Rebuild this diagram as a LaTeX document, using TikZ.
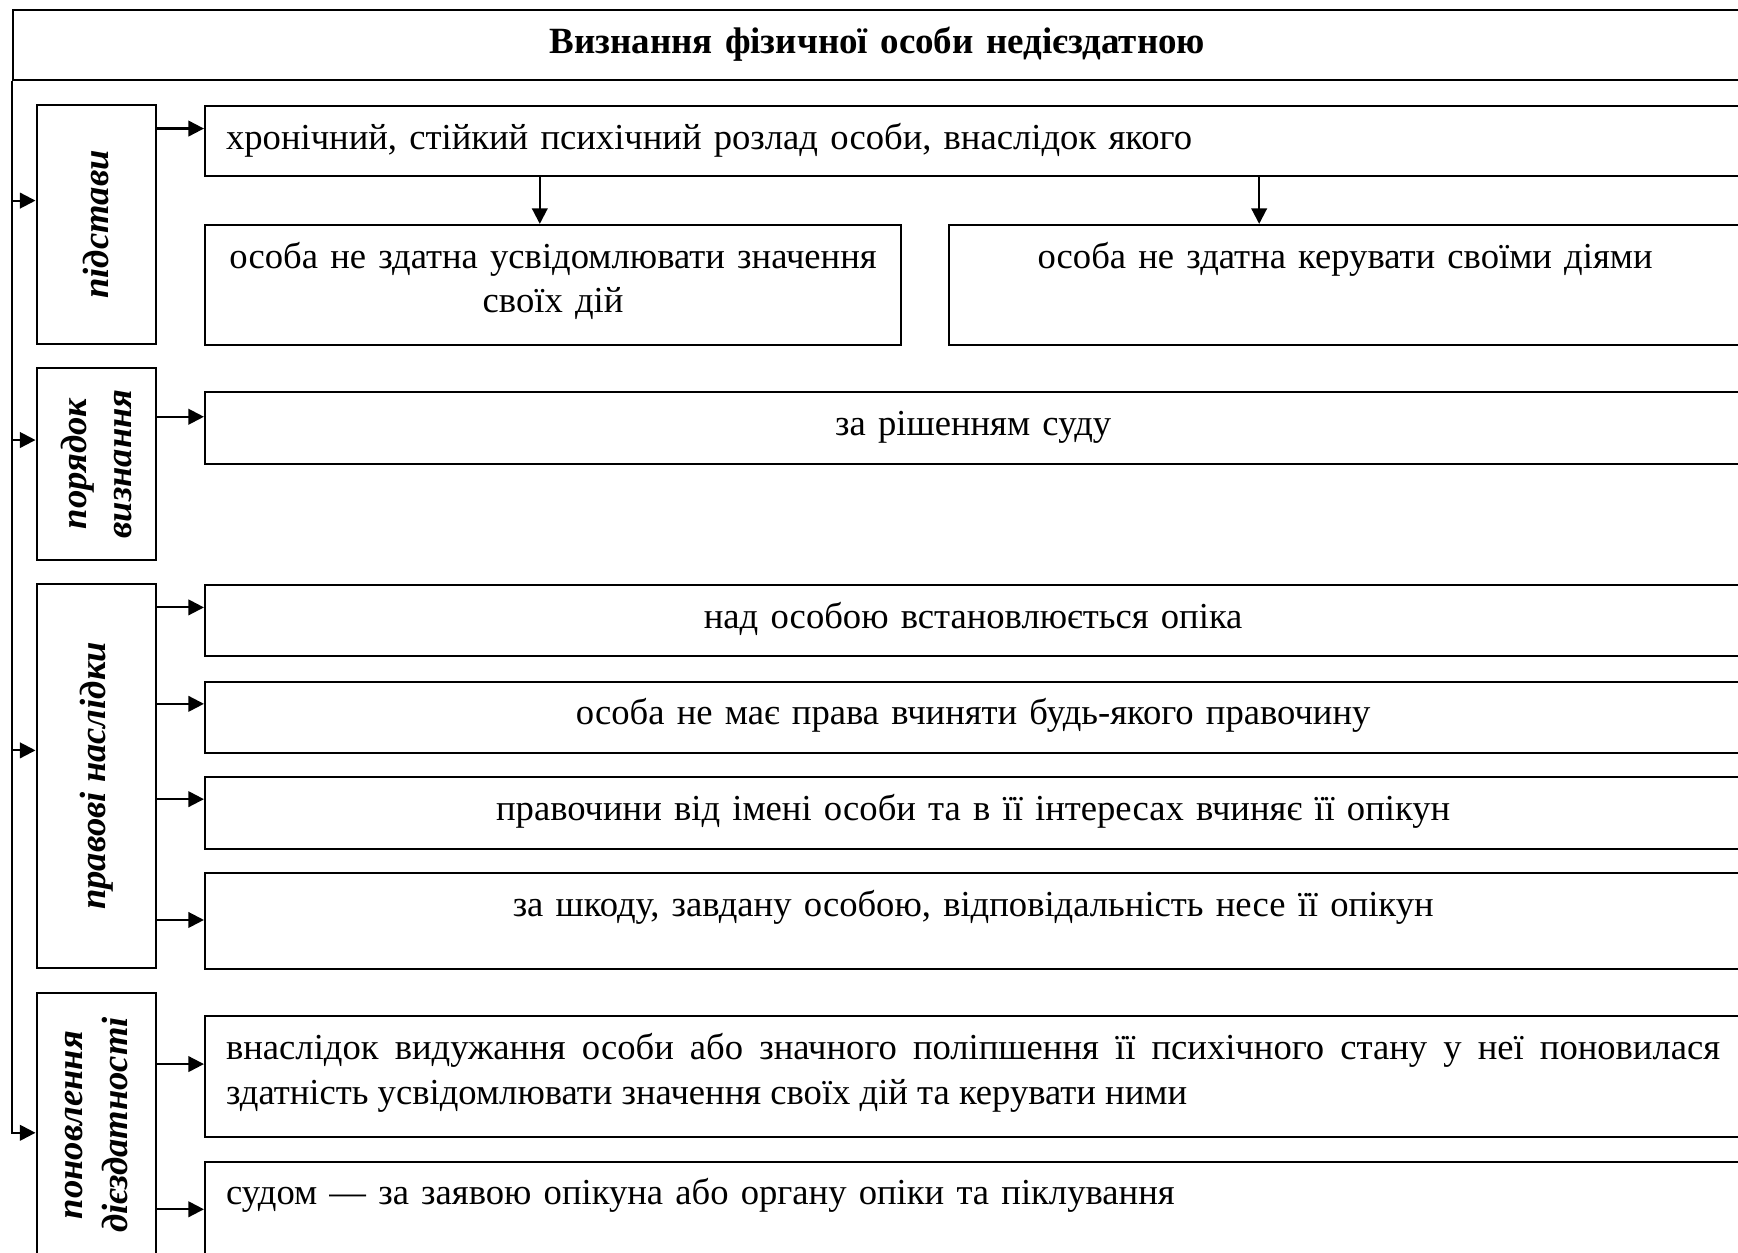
\documentclass[tikz,border=0pt]{standalone}
\usepackage{fontspec}
\setmainfont{Liberation Serif}
\usetikzlibrary{arrows.meta}

\newcommand{\bodyfont}{\fontsize{9.4}{11.4}\selectfont}

\begin{document}
\begin{tikzpicture}[
  cell/.style={draw, line width=0.55pt, anchor=north west, inner xsep=1.9mm,
               inner ysep=0pt, text height=3.9mm, font=\bodyfont},
  cat/.style={draw, line width=0.55pt, rotate=90, inner sep=0pt,
              minimum height=10.8mm, align=center, font=\bodyfont\bfseries\itshape},
  edge/.style={-{Triangle[length=4pt, width=4pt]}, line width=0.55pt}
]
  \useasboundingbox (0,0) rectangle (15.68,-11.30);
  \clip (0,0) rectangle (15.68,-11.30);

  \node[cell, text width=15.21cm, text depth=2.4mm, align=center,
        font=\fontsize{9.5}{11.4}\selectfont\bfseries]
    (title) at (0.11,-0.08) {Визнання фізичної особи недієздатною};

  \node[cat, minimum width=21.5mm] (cat1) at (0.87,-2.025) {підстави};
  \node[cat, minimum width=17.3mm] (cat2) at (0.87,-4.185) {порядок\\визнання};
  \node[cat, minimum width=34.6mm] (cat3) at (0.87,-7.00) {правові наслідки};
  \node[cat, minimum width=23.8mm] (cat4) at (0.87,-10.15) {поновлення\\дієздатності};

  \node[cell, text width=13.48cm, text depth=2.4mm, align=left] (b1) at (1.84,-0.95)
    {хронічний, стійкий психічний розлад особи, внаслідок якого};
  \node[cell, text width=6.16cm, inner xsep=0.6mm, text depth=6.9mm, align=center]
    (b2) at (1.84,-2.02)
    {особа не здатна усвідомлювати значення\\своїх дій};
  \node[cell, text width=6.77cm, text depth=6.9mm, align=center] (b3) at (8.55,-2.02)
    {особа не здатна керувати своїми діями};
  \node[cell, text width=13.48cm, text depth=2.6mm, align=center] (b4) at (1.84,-3.53)
    {за рішенням суду};
  \node[cell, text width=13.48cm, text depth=2.5mm, align=center] (b5) at (1.84,-5.27)
    {над особою встановлюється опіка};
  \node[cell, text width=13.48cm, text depth=2.5mm, align=center] (b6) at (1.84,-6.14)
    {особа не має права вчиняти будь-якого правочину};
  \node[cell, text width=13.48cm, text depth=2.6mm, align=center] (b7) at (1.84,-7.00)
    {правочини від імені особи та в її інтересах вчиняє її опікун};
  \node[cell, text width=13.48cm, text depth=4.7mm, align=center] (b8) at (1.84,-7.87)
    {за шкоду, завдану особою, відповідальність несе її опікун};
  \node[cell, text width=13.48cm, text depth=7.0mm, align=justify] (b9) at (1.84,-9.16)
    {внаслідок видужання особи або значного поліпшення її психічного стану у неї поновилася\linebreak
     здатність усвідомлювати значення своїх дій та керувати ними};
  \node[cell, text width=13.48cm, text depth=4.8mm, align=left] (b10) at (1.84,-10.47)
    {судом — за заявою опікуна або органу опіки та піклування};

  % trunk
  \draw[edge] (title.south west) |- (cat4.north |- 0,-10.22);
  \draw[edge] (title.south west |- 0,-1.81) -- (cat1.north |- 0,-1.81);
  \draw[edge] (title.south west |- 0,-3.97) -- (cat2.north |- 0,-3.97);
  \draw[edge] (title.south west |- 0,-6.77) -- (cat3.north |- 0,-6.77);

  \draw[edge] (cat1.south |- 0,-1.16) -- (b1.west |- 0,-1.16);
  \draw[edge] (b1.south -| 4.87,0) -- (b2.north -| 4.87,0);
  \draw[edge] (b1.south -| 11.36,0) -- (b3.north -| 11.36,0);

  \draw[edge] (cat2.south |- 0,-3.76) -- (b4.west |- 0,-3.76);

  \draw[edge] (cat3.south |- 0,-5.48) -- (b5.west |- 0,-5.48);
  \draw[edge] (cat3.south |- 0,-6.35) -- (b6.west |- 0,-6.35);
  \draw[edge] (cat3.south |- 0,-7.21) -- (b7.west |- 0,-7.21);
  \draw[edge] (cat3.south |- 0,-8.30) -- (b8.west |- 0,-8.30);

  \draw[edge] (cat4.south |- 0,-9.60) -- (b9.west |- 0,-9.60);
  \draw[edge] (cat4.south |- 0,-10.91) -- (b10.west |- 0,-10.91);
\end{tikzpicture}
\end{document}
